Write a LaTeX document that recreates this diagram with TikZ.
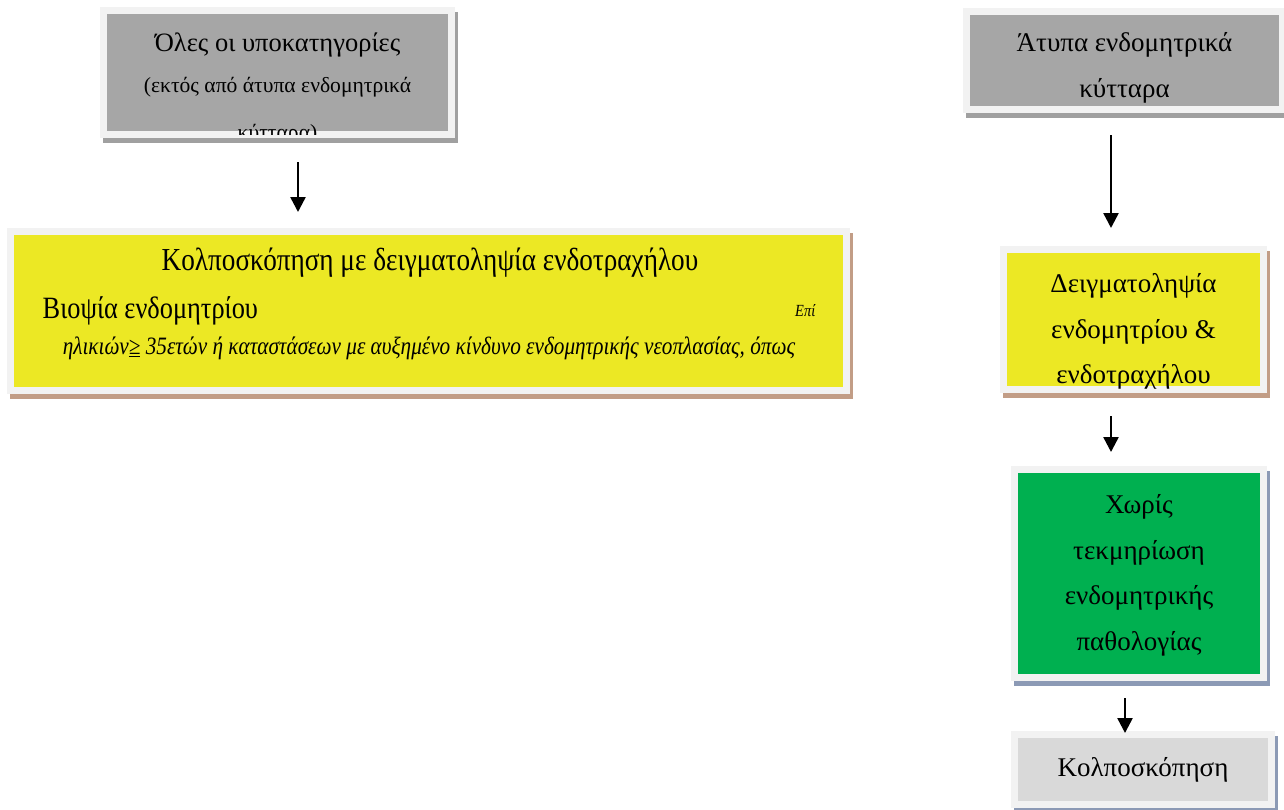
\documentclass[tikz,border=0pt]{standalone}
\usepackage{fontspec}
\setmainfont{Liberation Serif}
\newfontfamily\narrowserif[FakeStretch=0.85]{Liberation Serif}
\usepackage{xcolor}
\usetikzlibrary{arrows.meta, positioning, calc}
\definecolor{framecol}{HTML}{F2F2F2}
\definecolor{graycol}{HTML}{A6A6A6}
\definecolor{grayshd}{HTML}{A0A0A0}
\definecolor{yellowcol}{HTML}{ECE824}
\definecolor{yellowshd}{HTML}{C29D86}
\definecolor{greencol}{HTML}{00B050}
\definecolor{lightcol}{HTML}{D9D9D9}
\definecolor{blueshd}{HTML}{8C9AB5}

\begin{document}
\begin{tikzpicture}[
    x=1pt, y=-1pt,
    every node/.style={font=\fontsize{27}{45.5}\selectfont},
    panel/.style={rectangle, inner sep=0pt, draw=framecol, line width=7pt,
                  preaction={fill=#1, draw=#1, line width=7pt,
                  transform canvas={shift={(3pt,-5pt)}}}},
    graybox/.style={panel=grayshd, fill=graycol},
    yellowbox/.style={panel=yellowshd, fill=yellowcol},
    greenbox/.style={panel=blueshd, fill=greencol},
    lightbox/.style={panel=blueshd, fill=lightcol},
    txt/.style={inner sep=0pt, align=center, anchor=north},
    arr/.style={-{Triangle[length=15pt, width=15pt]}, line width=2.5pt},
]
\useasboundingbox[fill=white] (0,0) rectangle (1284,809);

% boxes
\node[graybox, minimum width=348pt, minimum height=124pt] (allsub) at (277.5,72.5) {};
\node[yellowbox, minimum width=836pt, minimum height=159pt] (colpo) at (428,310.5) {};
\node[graybox, minimum width=316pt, minimum height=98pt] (atyp) at (1124.5,60.5) {};
\node[yellowbox, minimum width=260pt, minimum height=140pt] (sampl) at (1133.5,319.5) {};
\node[greenbox, minimum width=249pt, minimum height=208pt] (nopath) at (1139,573.5) {};
\node[lightbox, minimum width=257pt, minimum height=70pt] (colposc) at (1143,769.5) {};

% texts, cut at the coloured area
\begin{scope}
\clip ($(allsub.north west)+(3.5,3.5)$) rectangle ($(allsub.south east)+(-3.5,-3.5)$);
\node[txt, font=\fontsize{26.5}{41}\selectfont] (allsubtxt) at ($(allsub.north)+(0,15.8)$)
    {\strut Όλες οι υποκατηγορίες\\
     {\fontsize{21.6}{41}\selectfont\strut (εκτός από άτυπα ενδομητρικά}\\[6pt]
     {\fontsize{21.6}{41}\selectfont\strut κύτταρα)}};
\end{scope}
\begin{scope}
\clip ($(atyp.north west)+(3.5,3.5)$) rectangle ($(atyp.south east)+(-3.5,-3.5)$);
\node[txt] (atyptxt) at ($(atyp.north)+(0,11.7)$)
    {\strut Άτυπα ενδομητρικά\\ \strut κύτταρα};
\end{scope}
\begin{scope}
\clip ($(sampl.north west)+(3.5,3.5)$) rectangle ($(sampl.south east)+(-3.5,-3.5)$);
\node[txt] (sampltxt) at ($(sampl.north)+(0,14.7)$)
    {\strut Δειγματοληψία\\ \strut ενδομητρίου \&\\ \strut ενδοτραχήλου};
\end{scope}

\node[txt] (nopathtxt) at ($(nopath.north)+(0,15.7)$)
    {\strut Χωρίς\\ \strut τεκμηρίωση\\ \strut ενδομητρικής\\ \strut παθολογίας};
\node[anchor=base, inner sep=0pt] (colposctxt) at ($(colposc.center)+(0,6.5)$) {Κολποσκόπηση};

\node[anchor=base, inner sep=0pt, font=\fontsize{32}{36}\narrowserif] (colpoA)
    at ($(colpo.north)+(2,43)$) {Κολποσκόπηση με δειγματοληψία ενδοτραχήλου};
\node[anchor=base west, inner sep=0pt, font=\fontsize{31}{36}\narrowserif] (colpoB)
    at ($(colpo.north west)+(36,91)$) {Βιοψία ενδομητρίου};
\node[anchor=base east, inner sep=0pt, font=\fontsize{17}{20}\narrowserif\itshape] (colpoC)
    at ($(colpo.north east)+(-34,89)$) {Επί};
\node[anchor=base, inner sep=0pt, font=\fontsize{25}{28}\narrowserif\itshape] (colpoD)
    at ($(colpo.north)+(1,127)$)
    {ηλικιών\underline{≥} 35ετών ή καταστάσεων με αυξημένο κίνδυνο ενδομητρικής νεοπλασίας, όπως};

% arrows
\coordinate (a1s) at (298,162);
\coordinate (a1e) at (298,212);
\coordinate (a2s) at (1111,135);
\coordinate (a2e) at (1111,228);
\coordinate (a3s) at (1111,416);
\coordinate (a3e) at (1111,452);
\coordinate (a4s) at (1125,698);
\coordinate (a4e) at (1125,733);
\draw[arr] (a1s) -- (a1e);
\draw[arr] (a2s) -- (a2e);
\draw[arr] (a3s) -- (a3e);
\draw[arr] (a4s) -- (a4e);

\end{tikzpicture}
\end{document}
